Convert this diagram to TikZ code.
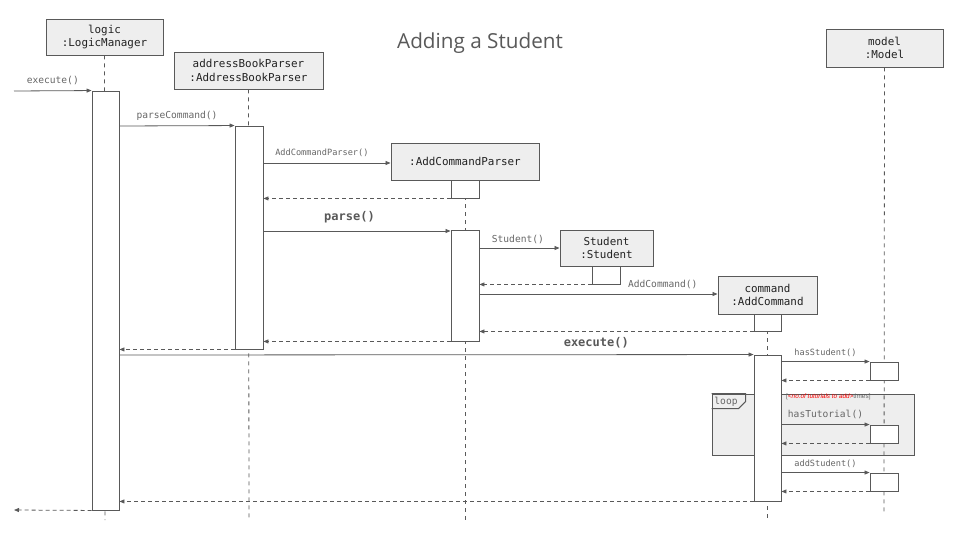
\documentclass[tikz,border=0pt]{standalone}
\usepackage{fontspec}
\setmainfont{Open Sans}
\setmonofont{DejaVu Sans Mono}
\newfontfamily\condfont{Liberation Sans}
\usetikzlibrary{arrows.meta,backgrounds}
\definecolor{linec}{HTML}{595959}
\definecolor{boxfill}{HTML}{EEEEEE}
\definecolor{txtc}{HTML}{222222}
\definecolor{lblc}{HTML}{666666}
\tikzset{
  obj/.style={draw=linec, fill=boxfill, line width=0.9pt, align=center, text=txtc,
    font=\ttfamily\fontsize{10.9}{13.5}\selectfont, inner sep=0pt},
  act/.style={draw=linec, fill=white, line width=0.9pt, minimum width=27, inner sep=0pt},
  msg/.style={draw=linec, line width=0.8pt, -{Triangle[width=4pt,length=5pt]}},
  ret/.style={draw=linec, line width=0.8pt, dash pattern=on 4pt off 3pt, -{Triangle[width=4pt,length=5pt]}},
  life/.style={draw=linec, line width=0.8pt, dash pattern=on 4pt off 4pt},
  lbl/.style={text=lblc, font=\ttfamily\fontsize{9.6}{11}\selectfont, inner sep=0pt},
  lblsm/.style={text=lblc, font=\ttfamily\fontsize{8.6}{10}\selectfont, inner sep=0pt},
  lblbig/.style={text=linec, font=\ttfamily\bfseries\fontsize{12}{14}\selectfont, inner sep=0pt},
}
\begin{document}
\begin{tikzpicture}[x=1pt,y=-1pt]
\useasboundingbox (0,0) rectangle (960,540);
% title
\node[text=linec, font=\fontsize{20.7}{24}\selectfont] (title) at (480,43) {Adding a Student};
% objects
\node[obj, minimum width=117, minimum height=36] (logic) at (104.5,37) {logic\\:LogicManager};
\node[obj, minimum width=149, minimum height=37] (abp) at (248.5,70.5) {addressBookParser\\:AddressBookParser};
\node[obj, minimum width=148, minimum height=37] (acp) at (465,161.5) {:AddCommandParser};
\node[obj, minimum width=93, minimum height=36] (stu) at (606.5,248) {Student\\:Student};
\node[obj, minimum width=99, minimum height=38] (cmd) at (767.5,295) {command\\:AddCommand};
\node[obj, minimum width=117, minimum height=38] (model) at (884.5,48) {model\\:Model};
% activations
\node[act, minimum height=419] (aL) at (105.5,300.5) {};
\node[act, minimum width=28, minimum height=223] (aA) at (249,237.5) {};
\node[act, minimum width=28, minimum height=18] (aP1) at (465,189) {};
\node[act, minimum width=28, minimum height=111] (aP2) at (465,285.5) {};
\node[act, minimum width=28, minimum height=18] (aS) at (606,275) {};
\node[act, minimum height=17] (aC1) at (767.5,322.5) {};
\node[act, minimum height=146] (aC2) at (767.5,428) {};
\node[act, minimum width=28, minimum height=18] (aM1) at (884,371) {};
\node[act, minimum width=28, minimum height=18] (aM2) at (884,434) {};
\node[act, minimum width=28, minimum height=18] (aM3) at (884,482) {};
% free ends
\coordinate (inL) at (14,91);
\coordinate (outL) at (14,510);
\coordinate (endL) at (105,520);
\coordinate (endA) at (249,520);
\coordinate (endP) at (465,520);
\coordinate (endC) at (767.5,518);
\coordinate (endM) at (884,515);
% background: loop frame and lifelines
\begin{scope}[on background layer]
  \node[draw=linec, fill=boxfill, line width=0.9pt, minimum width=202, minimum height=61, inner sep=0pt] (loop) at (813,424.5) {};
  \draw[life] (logic.south) -- (endL);
  \draw[life] (abp.south) -- (endA);
  \draw[life] (acp.south) -- (endP);
  \draw[life] (cmd.south) -- (endC);
  \draw[life] (model.south) -- (endM);
\end{scope}
% loop tab
\draw[draw=linec, line width=0.9pt] (loop.north west) -- ++(34,0) -- ++(0,8) -- ++(-7,7) -- ++(-27,0);
\node[lbl, anchor=center] (looplbl) at (726,402) {loop};
\node[anchor=west, inner sep=0pt, font=\condfont\fontsize{6.4}{7}\selectfont] (cond) at (786,397)
  {\textcolor{lblc}{[}\textcolor{red}{\itshape <no.of tutorials to add>}\textcolor{lblc}{ times]}};
% messages
\draw[msg] (inL) -- (aL.north west) node[lbl, midway, above=6pt] (m0) {execute()};
\draw[msg] (aL.east |- 0,126) -- (aA.north west) node[lbl, midway, above=5pt] (m1) {parseCommand()};
\draw[msg] (aA.east |- 0,163) -- (acp.west |- 0,163) node[lblsm, pos=0.46, above=6pt] (m2) {AddCommandParser()};
\draw[ret] (aP1.south west) -- (aA.east |- aP1.south);
\draw[msg] (aA.east |- 0,231) -- (aP2.west |- 0,231) node[lblbig, pos=0.46, above=8pt] (m3) {parse()};
\draw[msg] (aP2.east |- 0,248) -- (stu.west |- 0,248) node[lbl, pos=0.48, above=4pt] (m4) {Student()};
\draw[ret] (aS.south west) -- (aP2.east |- aS.south);
\draw[msg] (aP2.east |- 0,294) -- (cmd.west |- 0,294) node[lbl, pos=0.77, above=5pt] (m5) {AddCommand()};
\draw[ret] (aC1.south west) -- (aP2.east |- aC1.south);
\draw[ret] (aP2.south west) -- (aA.east |- aP2.south);
\draw[ret] (aA.south west) -- (aL.east |- aA.south);
\draw[msg] (aL.east |- 0,355) -- (aC2.north west) node[lblbig, pos=0.752, above=6pt] (m6) {execute()};
\draw[msg] (aC2.east |- aM1.north) -- (aM1.north west) node[lblsm, midway, above=5pt] (m7) {hasStudent()};
\draw[ret] (aM1.south west) -- (aC2.east |- aM1.south);
\draw[msg] (aC2.east |- aM2.north) -- (aM2.north west) node[lbl, midway, above=5pt] (m8) {hasTutorial()};
\draw[ret] (aM2.south west) -- (aC2.east |- aM2.south);
\draw[msg] (aC2.east |- aM3.north) -- (aM3.north west) node[lblsm, midway, above=5pt] (m9) {addStudent()};
\draw[ret] (aM3.south west) -- (aC2.east |- aM3.south);
\draw[ret] (aC2.south west) -- (aL.east |- aC2.south);
\draw[ret] (aL.south west) -- (outL);
\end{tikzpicture}
\end{document}
